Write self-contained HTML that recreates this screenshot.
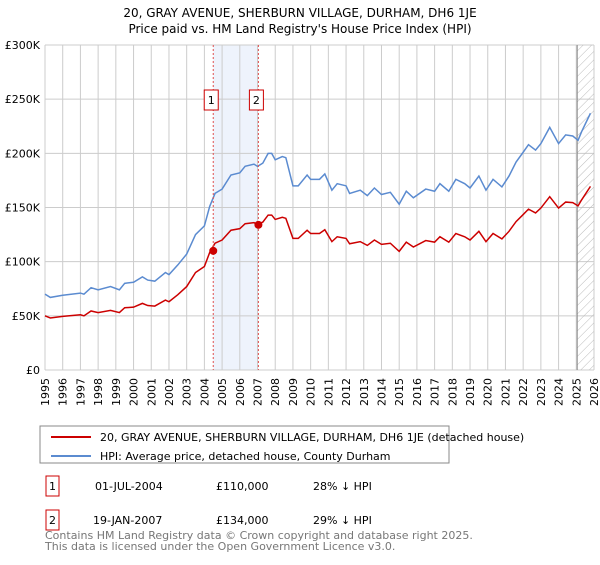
<!DOCTYPE html>
<html><head><meta charset="utf-8"><style>
body{margin:0;background:#fff;font-family:"Liberation Sans","DejaVu Sans",sans-serif;}
svg text{font-family:"DejaVu Sans","Liberation Sans",sans-serif;}
</style></head><body>
<svg width="600" height="560" xmlns="http://www.w3.org/2000/svg">
<defs><pattern id="hatch" width="6" height="6" patternUnits="userSpaceOnUse" patternTransform="rotate(45)"><line x1="0" y1="0" x2="0" y2="6" stroke="#bbb" stroke-width="1"/></pattern></defs>
<text x="300" y="17" text-anchor="middle" font-size="12">20, GRAY AVENUE, SHERBURN VILLAGE, DURHAM, DH6 1JE</text>
<text x="300" y="33" text-anchor="middle" font-size="12">Price paid vs. HM Land Registry's House Price Index (HPI)</text>
<g id="plot"></g>
<rect x="40" y="426" width="409" height="37" fill="none" stroke="#888"/>
<line x1="51" y1="437" x2="91" y2="437" stroke="#cc0000" stroke-width="2"/>
<text x="100" y="441" font-size="11">20, GRAY AVENUE, SHERBURN VILLAGE, DURHAM, DH6 1JE (detached house)</text>
<line x1="51" y1="456" x2="91" y2="456" stroke="#5b8bd0" stroke-width="2"/>
<text x="100" y="460" font-size="11">HPI: Average price, detached house, County Durham</text>
<g>
<rect x="46" y="476" width="13" height="20" fill="none" stroke="#cc0000"/>
<text x="52.5" y="490" font-size="11" text-anchor="middle">1</text>
<text x="95" y="490" font-size="11">01-JUL-2004</text>
<text x="216" y="490" font-size="11">£110,000</text>
<text x="313" y="490" font-size="11">28% ↓ HPI</text></g>
<g>
<rect x="46" y="510" width="13" height="20" fill="none" stroke="#cc0000"/>
<text x="52.5" y="524" font-size="11" text-anchor="middle">2</text>
<text x="93" y="524" font-size="11">19-JAN-2007</text>
<text x="216" y="524" font-size="11">£134,000</text>
<text x="313" y="524" font-size="11">29% ↓ HPI</text></g>
<text x="45" y="539" font-size="11" fill="#777">Contains HM Land Registry data © Crown copyright and database right 2025.</text>
<text x="45" y="550" font-size="11" fill="#777">This data is licensed under the Open Government Licence v3.0.</text>
</svg>
<script>
const hpiYears=[1995,1995.3,1996,1997,1997.2,1997.6,1998,1998.7,1999.2,1999.5,2000,2000.5,2000.8,2001.2,2001.8,2002,2002.5,2003,2003.5,2004,2004.3,2004.6,2005,2005.5,2006,2006.3,2006.8,2007,2007.3,2007.6,2007.8,2008,2008.4,2008.6,2009,2009.3,2009.8,2010,2010.5,2010.8,2011.2,2011.5,2012,2012.2,2012.8,2013.2,2013.6,2014,2014.5,2015,2015.4,2015.8,2016.5,2017,2017.3,2017.8,2018.2,2018.7,2019,2019.5,2019.9,2020.3,2020.8,2021.2,2021.6,2022,2022.3,2022.7,2023,2023.5,2024,2024.4,2024.8,2025.1,2025.3,2025.8];
const hpiValues=[70,67,69,71,70,76,74,77,74,80,81,86,83,82,90,88,97,107,125,133,151,163,167,180,182,188,190,188,191,200,200,194,197,196,170,170,180,176,176,181,166,172,170,163,166,161,168,162,164,153,165,159,167,165,172,165,176,172,168,179,166,176,169,179,192,201,208,203,209,224,209,217,216,212,220,237];
const priceValues=[50,48,49.5,51,50,54.5,53,55,53,57.5,58,61.5,59.5,59,64.5,63,69.5,77,90,95.5,108.5,117,120,129,130.5,135,136,134.5,136.5,143,143,139,141,140,121.5,121.5,129,126,126,129.5,118.5,123,121.5,116.5,118.5,115,120,116,117,109.5,118,113.5,119.5,118,123,118,126,123,120,128,118.5,126,121,128,137,143.5,148.5,145,149.5,160,149.5,155,154.5,151.5,157,169.5];
const saleYears=[2004.5,2007.05];
const salePrices=[110,134];
const yTicks=[0,50,100,150,200,250,300];
const yTickLabels=["£0","£50K","£100K","£150K","£200K","£250K","£300K"];
const xTicks=[1995,1996,1997,1998,1999,2000,2001,2002,2003,2004,2005,2006,2007,2008,2009,2010,2011,2012,2013,2014,2015,2016,2017,2018,2019,2020,2021,2022,2023,2024,2025,2026];
const X0=45,X1=594,Y0=370,Y1=45;
const xs=y=>X0+(y-1995)*(X1-X0)/31;
const ys=v=>Y0-v*(Y0-Y1)/300;
const NS="http://www.w3.org/2000/svg";
const g=document.getElementById('plot');
function mk(t,a){const e=document.createElementNS(NS,t);for(const k in a)e.setAttribute(k,a[k]);g.appendChild(e);return e;}
let e=mk('rect',{x:xs(saleYears[0]),y:Y1,width:xs(saleYears[1])-xs(saleYears[0]),height:Y0-Y1,fill:'#eef3fc'});


xTicks.forEach((t,i)=>{
 let l=mk('line',{x1:xs(t),x2:xs(t),y1:Y1,y2:Y0,stroke:'#ccc'});
 
 
 let tx=mk('text',{x:0,y:0,'font-size':11,'text-anchor':'end',transform:`translate(${xs(t)+4},378) rotate(-90)`});
 tx.textContent=t;
 
 
});
yTicks.forEach((t,i)=>{
 let l=mk('line',{x1:X0,x2:X1,y1:ys(t),y2:ys(t),stroke:'#ccc'});
 
 
 let tx=mk('text',{x:X0-5,y:ys(t)+4,'font-size':11,'text-anchor':'end'});
 tx.textContent=yTickLabels[i];
 
 
});
e=mk('rect',{x:xs(2025.05),y:Y1,width:X1-xs(2025.05),height:Y0-Y1,fill:'url(#hatch)'});


e=mk('line',{x1:xs(2025.05),x2:xs(2025.05),y1:Y1,y2:Y0,stroke:'#888'});


e=mk('polyline',{points:hpiYears.map((y,i)=>xs(y)+','+ys(hpiValues[i])).join(' '),fill:'none',stroke:'#5b8bd0','stroke-width':1.5});


e=mk('polyline',{points:hpiYears.map((y,i)=>xs(y)+','+ys(priceValues[i])).join(' '),fill:'none',stroke:'#cc0000','stroke-width':1.5});


saleYears.forEach((y,i)=>{
 let l=mk('line',{x1:xs(y),x2:xs(y),y1:Y1,y2:Y0,stroke:'#e05050','stroke-dasharray':'2,2'});
 
 
 let c=mk('circle',{cx:xs(y),cy:ys(salePrices[i]),r:4,fill:'#cc0000'});
 
 
 let b=mk('rect',{x:xs(y)-9,y:90,width:14,height:20,fill:'#fff',stroke:'#cc0000'});
 
 
 let t=mk('text',{x:xs(y)-2,y:104,'font-size':11,'text-anchor':'middle'});
 t.textContent=String(i+1);
 
 
});
</script>
</body></html>
